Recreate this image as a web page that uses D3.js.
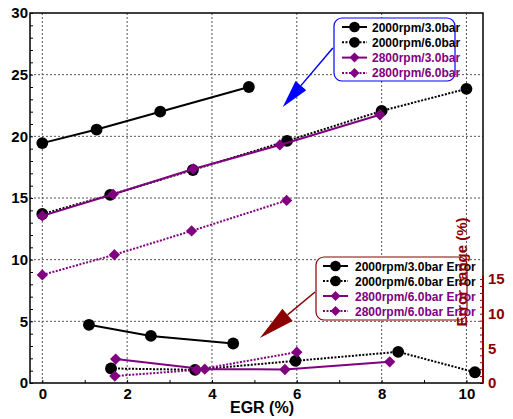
<!DOCTYPE html>
<html>
<head>
<meta charset="utf-8">
<script src="https://cdn.jsdelivr.net/npm/d3@7"></script>
<style>
  body { margin: 0; background: #fff; }
  svg text { font-family: "Liberation Sans", Arial, sans-serif; font-weight: bold; }
</style>
</head>
<body>
<svg id="chart" width="513" height="419"></svg>
<script>
// EGR sweep, left axis values
var x2000_3 = [0, 1.28, 2.78, 4.87];
var y2000_3 = [19.45, 20.55, 22.0, 24.0];
var x2000_6 = [0, 1.6, 3.55, 5.77, 8.0, 10.0];
var y2000_6 = [13.7, 15.25, 17.27, 19.63, 22.06, 23.85];
var x2800_3 = [0, 1.67, 3.56, 5.6, 7.96];
var y2800_3 = [13.55, 15.3, 17.35, 19.3, 21.75];
var x2800_6 = [0, 1.7, 3.52, 5.76];
var y2800_6 = [8.76, 10.4, 12.33, 14.8];

// error series, right axis values
var xErr2000_3 = [1.1, 2.56, 4.5];
var yErr2000_3 = [8.4, 6.8, 5.7];
var xErr2000_6 = [1.62, 3.6, 5.97, 8.39, 10.2];
var yErr2000_6 = [2.1, 1.9, 3.2, 4.5, 1.55];
var xErr2800_a = [1.73, 3.83, 5.72, 8.19];
var yErr2800_a = [3.45, 2.0, 1.95, 3.05];
var xErr2800_b = [1.71, 3.64, 6.0];
var yErr2800_b = [1.0, 1.9, 4.45];

var xTicks = [0, 2, 4, 6, 8, 10];
var yTicks = [0, 5, 10, 15, 20, 25, 30];
var yRightTicks = [0, 5, 10, 15];

var legendTop = ["2000rpm/3.0bar", "2000rpm/6.0bar", "2800rpm/3.0bar", "2800rpm/6.0bar"];
var legendBottom = ["2000rpm/3.0bar Error", "2000rpm/6.0bar Error", "2800rpm/6.0bar Error", "2800rpm/6.0bar Error"];

var purple = "#800080", darkred = "#8b0000";

var svg = d3.select("#chart");
var pL = 30, pR = 483, pT = 13, pB = 383;

var x = d3.scaleLinear().domain([-0.29, 10.39]).range([pL, pR]);
var y = d3.scaleLinear().domain([0, 30]).range([pB, pT]);
var yR = d3.scaleLinear().domain([0, 53.4]).range([pB, pT]);

// grid
var grid = svg.append("g").attr("stroke", "#555").attr("stroke-dasharray", "2,2").attr("stroke-width", 1);
xTicks.forEach(function (t) {
    grid.append("line").attr("x1", x(t)).attr("x2", x(t)).attr("y1", pT).attr("y2", pB);
});
yTicks.slice(1, -1).forEach(function (t) {
    grid.append("line").attr("x1", pL).attr("x2", pR).attr("y1", y(t)).attr("y2", y(t));
});

// axes
var axL = svg.append("g").attr("transform", "translate(" + pL + ",0)")
    .call(d3.axisLeft(y).tickValues(yTicks).tickSize(0).tickPadding(2));
svg.append("g").attr("transform", "translate(" + pL + ",0)")
    .call(d3.axisRight(y).tickValues(d3.range(0, 31, 1)).tickSize(3).tickFormat(""));
var axB = svg.append("g").attr("transform", "translate(0," + pB + ")")
    .call(d3.axisBottom(x).tickValues(xTicks).tickSize(0).tickPadding(5));
svg.append("g").attr("transform", "translate(0," + pB + ")")
    .call(d3.axisTop(x).tickValues(d3.range(0, 11, 1)).tickSize(3).tickFormat(""));
var axR = svg.append("g").attr("transform", "translate(" + pR + ",0)")
    .call(d3.axisRight(yR).tickValues(yRightTicks).tickSize(0).tickPadding(5));
var axRm = svg.append("g").attr("transform", "translate(" + pR + ",0)")
    .call(d3.axisLeft(yR).tickValues(d3.range(0, 16, 1)).tickSize(3).tickFormat(""));

svg.selectAll(".domain").remove();
svg.selectAll(".tick line").attr("stroke", "#000").attr("stroke-width", 1);
axRm.selectAll(".tick line").attr("stroke", darkred);
axL.selectAll("text").style("font-size", "15px").attr("fill", "#000");
axB.selectAll("text").style("font-size", "15px").attr("fill", "#000");
axR.selectAll("text").style("font-size", "15px").attr("fill", darkred);

// frame
svg.append("rect").attr("x", pL).attr("y", pT).attr("width", pR - pL).attr("height", pB - pT)
    .attr("fill", "none").attr("stroke", "#000").attr("stroke-width", 1.5);
svg.append("line").attr("x1", pR).attr("x2", pR).attr("y1", yR(0)).attr("y2", yR(15.5))
    .attr("stroke", darkred).attr("stroke-width", 2);

svg.append("text").attr("x", 262).attr("y", 413).attr("text-anchor", "middle")
    .style("font-size", "16px").text("EGR (%)");

// markers
function markerPath(kind, s) {
    if (kind === "circle") return d3.symbol().type(d3.symbolCircle).size(s)();
    return d3.symbol().type(d3.symbolSquare).size(s)();
}

// series
function drawSeries(xs, ys, yScale, color, dashed, marker) {
    var pts = xs.map(function (v, i) { return [x(v), yScale(ys[i])]; });
    svg.append("path").attr("d", d3.line()(pts)).attr("fill", "none")
        .attr("stroke", color).attr("stroke-width", 2)
        .attr("stroke-dasharray", dashed ? "2,1.5" : null);
    pts.forEach(function (p) {
        svg.append("path")
            .attr("d", markerPath(marker, marker === "circle" ? 110 : 64))
            .attr("transform", "translate(" + p[0] + "," + p[1] + ")" + (marker === "circle" ? "" : " rotate(45)"))
            .attr("fill", color);
    });
}

drawSeries(x2000_3, y2000_3, y, "#000", false, "circle");
drawSeries(x2000_6, y2000_6, y, "#000", true, "circle");
drawSeries(x2800_3, y2800_3, y, purple, false, "diamond");
drawSeries(x2800_6, y2800_6, y, purple, true, "diamond");

drawSeries(xErr2000_3, yErr2000_3, yR, "#000", false, "circle");
drawSeries(xErr2000_6, yErr2000_6, yR, "#000", true, "circle");
drawSeries(xErr2800_a, yErr2800_a, yR, purple, false, "diamond");
drawSeries(xErr2800_b, yErr2800_b, yR, purple, true, "diamond");

// legends
function legend(x0, y0, w, h, border, labels, rowH, sx, tx) {
    var g = svg.append("g");
    g.append("rect").attr("x", x0).attr("y", y0).attr("width", w).attr("height", h)
        .attr("rx", 8).attr("fill", "#fff").attr("stroke", border).attr("stroke-width", 1.2);
    labels.forEach(function (lab, i) {
        var cy = y0 + 9 + i * rowH;
        var color = i < 2 ? "#000" : purple;
        g.append("line").attr("x1", x0 + sx).attr("x2", x0 + sx + 25).attr("y1", cy).attr("y2", cy)
            .attr("stroke", color).attr("stroke-width", 2)
            .attr("stroke-dasharray", i % 2 ? "2,1.5" : null);
        g.append("path").attr("d", markerPath(i < 2 ? "circle" : "diamond", i < 2 ? 90 : 50))
            .attr("transform", "translate(" + (x0 + sx + 12.5) + "," + cy + ")" + (i < 2 ? "" : " rotate(45)"))
            .attr("fill", color);
        g.append("text").attr("x", x0 + tx).attr("y", cy + 4.5).attr("fill", color)
            .style("font-size", "12px").text(lab);
    });
}
legend(334, 18, 121, 63, "#0000ff", legendTop, 15.3, 8, 38);
legend(316, 257, 151, 63, darkred, legendBottom, 15, 7, 39);

// arrows (data coordinates, left axis)
function arrow(xa, ya, xb, yb, color, headLen, headW) {
    var p1 = [x(xa), y(ya)], p2 = [x(xb), y(yb)];
    var dx = p2[0] - p1[0], dy = p2[1] - p1[1], L = Math.sqrt(dx * dx + dy * dy);
    var ux = dx / L, uy = dy / L;
    var bx = p2[0] - ux * headLen, by = p2[1] - uy * headLen;
    svg.append("line").attr("x1", p1[0]).attr("y1", p1[1]).attr("x2", bx).attr("y2", by)
        .attr("stroke", color).attr("stroke-width", 1.5);
    svg.append("path").attr("d", "M" + p2[0] + "," + p2[1] +
        "L" + (bx - uy * headW) + "," + (by + ux * headW) +
        "L" + (bx + uy * headW) + "," + (by - ux * headW) + "Z").attr("fill", color);
}
arrow(6.85, 27.17, 5.67, 22.38, "#0000ff", 28, 7);
arrow(6.43, 7.38, 5.13, 3.65, darkred, 36, 8);

// right axis title
svg.append("text").attr("transform", "translate(467,272) rotate(-90)").attr("text-anchor", "middle")
    .attr("fill", darkred).style("font-size", "15px").text("Error range (%)");
</script>
</body>
</html>
